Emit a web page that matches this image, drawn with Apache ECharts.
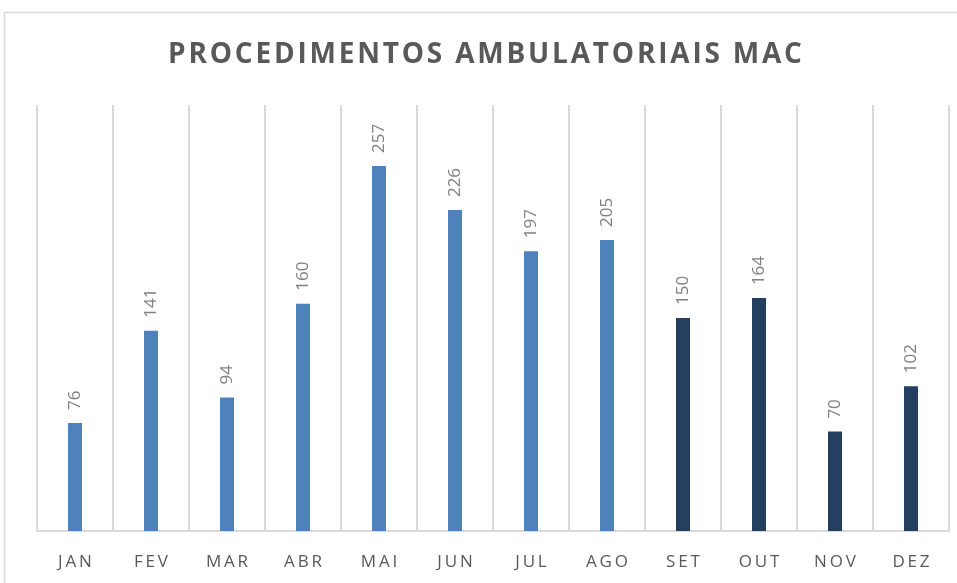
<!DOCTYPE html>
<html>
<head>
<meta charset="utf-8">
<script src="https://cdn.jsdelivr.net/npm/echarts@6/dist/echarts.min.js"></script>
<style>
  html, body { margin: 0; padding: 0; background: #fff; }
  #chart { width: 957px; height: 583px; }
</style>
</head>
<body>
<div id="chart"></div>
<script>
// dados do gráfico
var meses = ['JAN', 'FEV', 'MAR', 'ABR', 'MAI', 'JUN', 'JUL', 'AGO', 'SET', 'OUT', 'NOV', 'DEZ'];
var procedimentos = [76, 141, 94, 160, 257, 226, 197, 205, 150, 164, 70, 102];
var corClara = '#4F81BD';
var corEscura = '#243F60';
var primeiroEscuro = 8; // a partir de SET as barras ficam escuras

function espacar(txt, sep) {
	return txt.split('').join(sep);
}

var myChart = echarts.init(document.getElementById('chart'));
var option = {
	animation: false,
	title: {
		text: espacar('PROCEDIMENTOS AMBULATORIAIS MAC', '\u200A'),
		left: 168,
		top: 36,
		padding: [5, 0, 5, 0],
		textStyle: {
			color: '#595959',
			fontFamily: 'Open Sans',
			fontWeight: 'bold',
			fontSize: 28
		}
	},
	grid: {
		left: 37,
		right: 8,
		top: 105,
		bottom: 52
	},
	xAxis: {
		type: 'category',
		data: meses,
		axisLine: { lineStyle: { color: '#d9d9d9', width: 2 } },
		axisTick: { show: false },
		axisLabel: {
			color: '#595959',
			fontFamily: 'Open Sans',
			fontSize: 17,
			margin: 23,
			formatter: function (v) { return espacar(v, '\u2009'); }
		},
		splitLine: { show: true, lineStyle: { color: '#d9d9d9', width: 2 } }
	},
	yAxis: {
		type: 'value',
		min: 0,
		max: 300,
		show: false
	},
	graphic: [{
		type: 'rect',
		shape: { x: 4.5, y: 12.5, width: 980, height: 600 },
		style: { fill: 'none', stroke: '#d9d9d9', lineWidth: 1.5 },
		silent: true
	}],
	series: [{
		name: 'Procedimentos',
		type: 'bar',
		barWidth: 14,
		data: procedimentos.map(function (v, i) {
			return {
				value: v,
				itemStyle: { color: i >= primeiroEscuro ? corEscura : corClara }
			};
		}),
		label: {
			show: true,
			position: 'top',
			rotate: 90,
			align: 'left',
			verticalAlign: 'middle',
			distance: 13,
			color: '#808080',
			fontFamily: 'Open Sans',
			fontSize: 17
		}
	}]
};
myChart.setOption(option);
</script>
</body>
</html>
